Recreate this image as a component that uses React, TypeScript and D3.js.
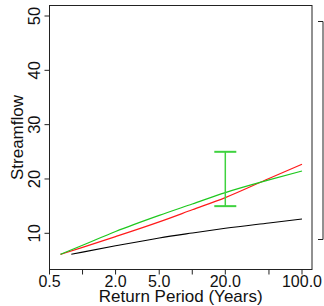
import React from "react";
import * as d3 from "d3";

const periodsMain = [0.63, 1, 2, 5, 10, 20, 50, 100];
const redValues = [6.13, 7.42, 9.39, 12.1, 14.33, 16.57, 20.09, 22.71];
const greenValues = [6.13, 7.79, 10.33, 13.3, 15.4, 17.5, 19.83, 21.47];
const periodsBlack = [0.79, 1, 2, 5, 10, 20, 50, 100];
const blackValues = [6.13, 6.54, 7.7, 9.15, 10.06, 10.92, 11.9, 12.63];
const errorBar = { period: 20, low: 15, high: 25 };

const xTicks = [0.5, 1, 2, 5, 10, 20, 50, 100];
const xTickLabels = ["0.5", "", "2.0", "5.0", "", "20.0", "", "100.0"];
const yTicks = [10, 20, 30, 40, 50];

const W = 324;
const H = 306;
const left = 49.5;
const right = 312;
const top = 5.5;
const bottom = 269.5;

export default function App() {
  const x = d3.scaleLog().domain([0.5, 100]).range([left, 302]);
  const y = d3.scaleLinear().domain([10, 50]).range([233.3, 16]);

  const line = d3
    .line<[number, number]>()
    .x((d) => x(d[0]))
    .y((d) => y(d[1]))
    .curve(d3.curveMonotoneX);

  const red = line(periodsMain.map((p, i) => [p, redValues[i]]) as [number, number][]);
  const green = line(periodsMain.map((p, i) => [p, greenValues[i]]) as [number, number][]);
  const black = line(periodsBlack.map((p, i) => [p, blackValues[i]]) as [number, number][]);

  const font = "'Liberation Sans', Arial, Helvetica, sans-serif";
  const ex = x(errorBar.period);

  return (
    <svg
      width={W}
      height={H}
      style={{ position: "absolute", left: 0, top: 0, background: "#fff" }}
      fontFamily={font}
    >
      <rect x={0} y={0} width={W} height={H} fill="#fff" />
      {/* plot box */}
      <rect
        x={left}
        y={top}
        width={right - left}
        height={bottom - top}
        fill="none"
        stroke="#222"
        strokeWidth={1}
      />
      {/* x axis ticks */}
      {xTicks.map((t, i) => (
        <g key={"xt" + i}>
          <line x1={x(t)} x2={x(t)} y1={bottom} y2={bottom + 5} stroke="#222" />
          {xTickLabels[i] && (
            <text x={x(t)} y={286.5} fontSize={16} textAnchor="middle" fill="#111">
              {xTickLabels[i]}
            </text>
          )}
        </g>
      ))}
      {/* y axis ticks */}
      {yTicks.map((t) => (
        <g key={"yt" + t}>
          <line x1={left - 5} x2={left} y1={y(t)} y2={y(t)} stroke="#222" />
          <text
            transform={`translate(${39.5},${y(t)}) rotate(-90)`}
            fontSize={16.5}
            textAnchor="middle"
            fill="#111"
          >
            {t}
          </text>
        </g>
      ))}
      {/* axis titles */}
      <text x={(left + right) / 2} y={302} fontSize={17} textAnchor="middle" fill="#111">
        Return Period (Years)
      </text>
      <text
        transform={`translate(${22.5},${(top + bottom) / 2}) rotate(-90)`}
        fontSize={17}
        textAnchor="middle"
        fill="#111"
      >
        Streamflow
      </text>
      {/* lines */}
      <path d={black || ""} fill="none" stroke="#000" strokeWidth={1.1} />
      <path d={red || ""} fill="none" stroke="#ff1a1a" strokeWidth={1.2} />
      <path d={green || ""} fill="none" stroke="#1ec81e" strokeWidth={1.2} />
      {/* error bar */}
      <g stroke="#3fd23f" strokeWidth={1.5}>
        <line x1={ex} x2={ex} y1={y(errorBar.low)} y2={y(errorBar.high)} />
        <line x1={ex - 11} x2={ex + 11} y1={y(errorBar.low)} y2={y(errorBar.low)} strokeWidth={2} />
        <line x1={ex - 11} x2={ex + 11} y1={y(errorBar.high)} y2={y(errorBar.high)} strokeWidth={2} />
      </g>
      {/* right bracket */}
      <g stroke="#222" strokeWidth={1} fill="none">
        <path d={`M318,21.5 H323 V239.5 H318`} />
      </g>
    </svg>
  );
}
